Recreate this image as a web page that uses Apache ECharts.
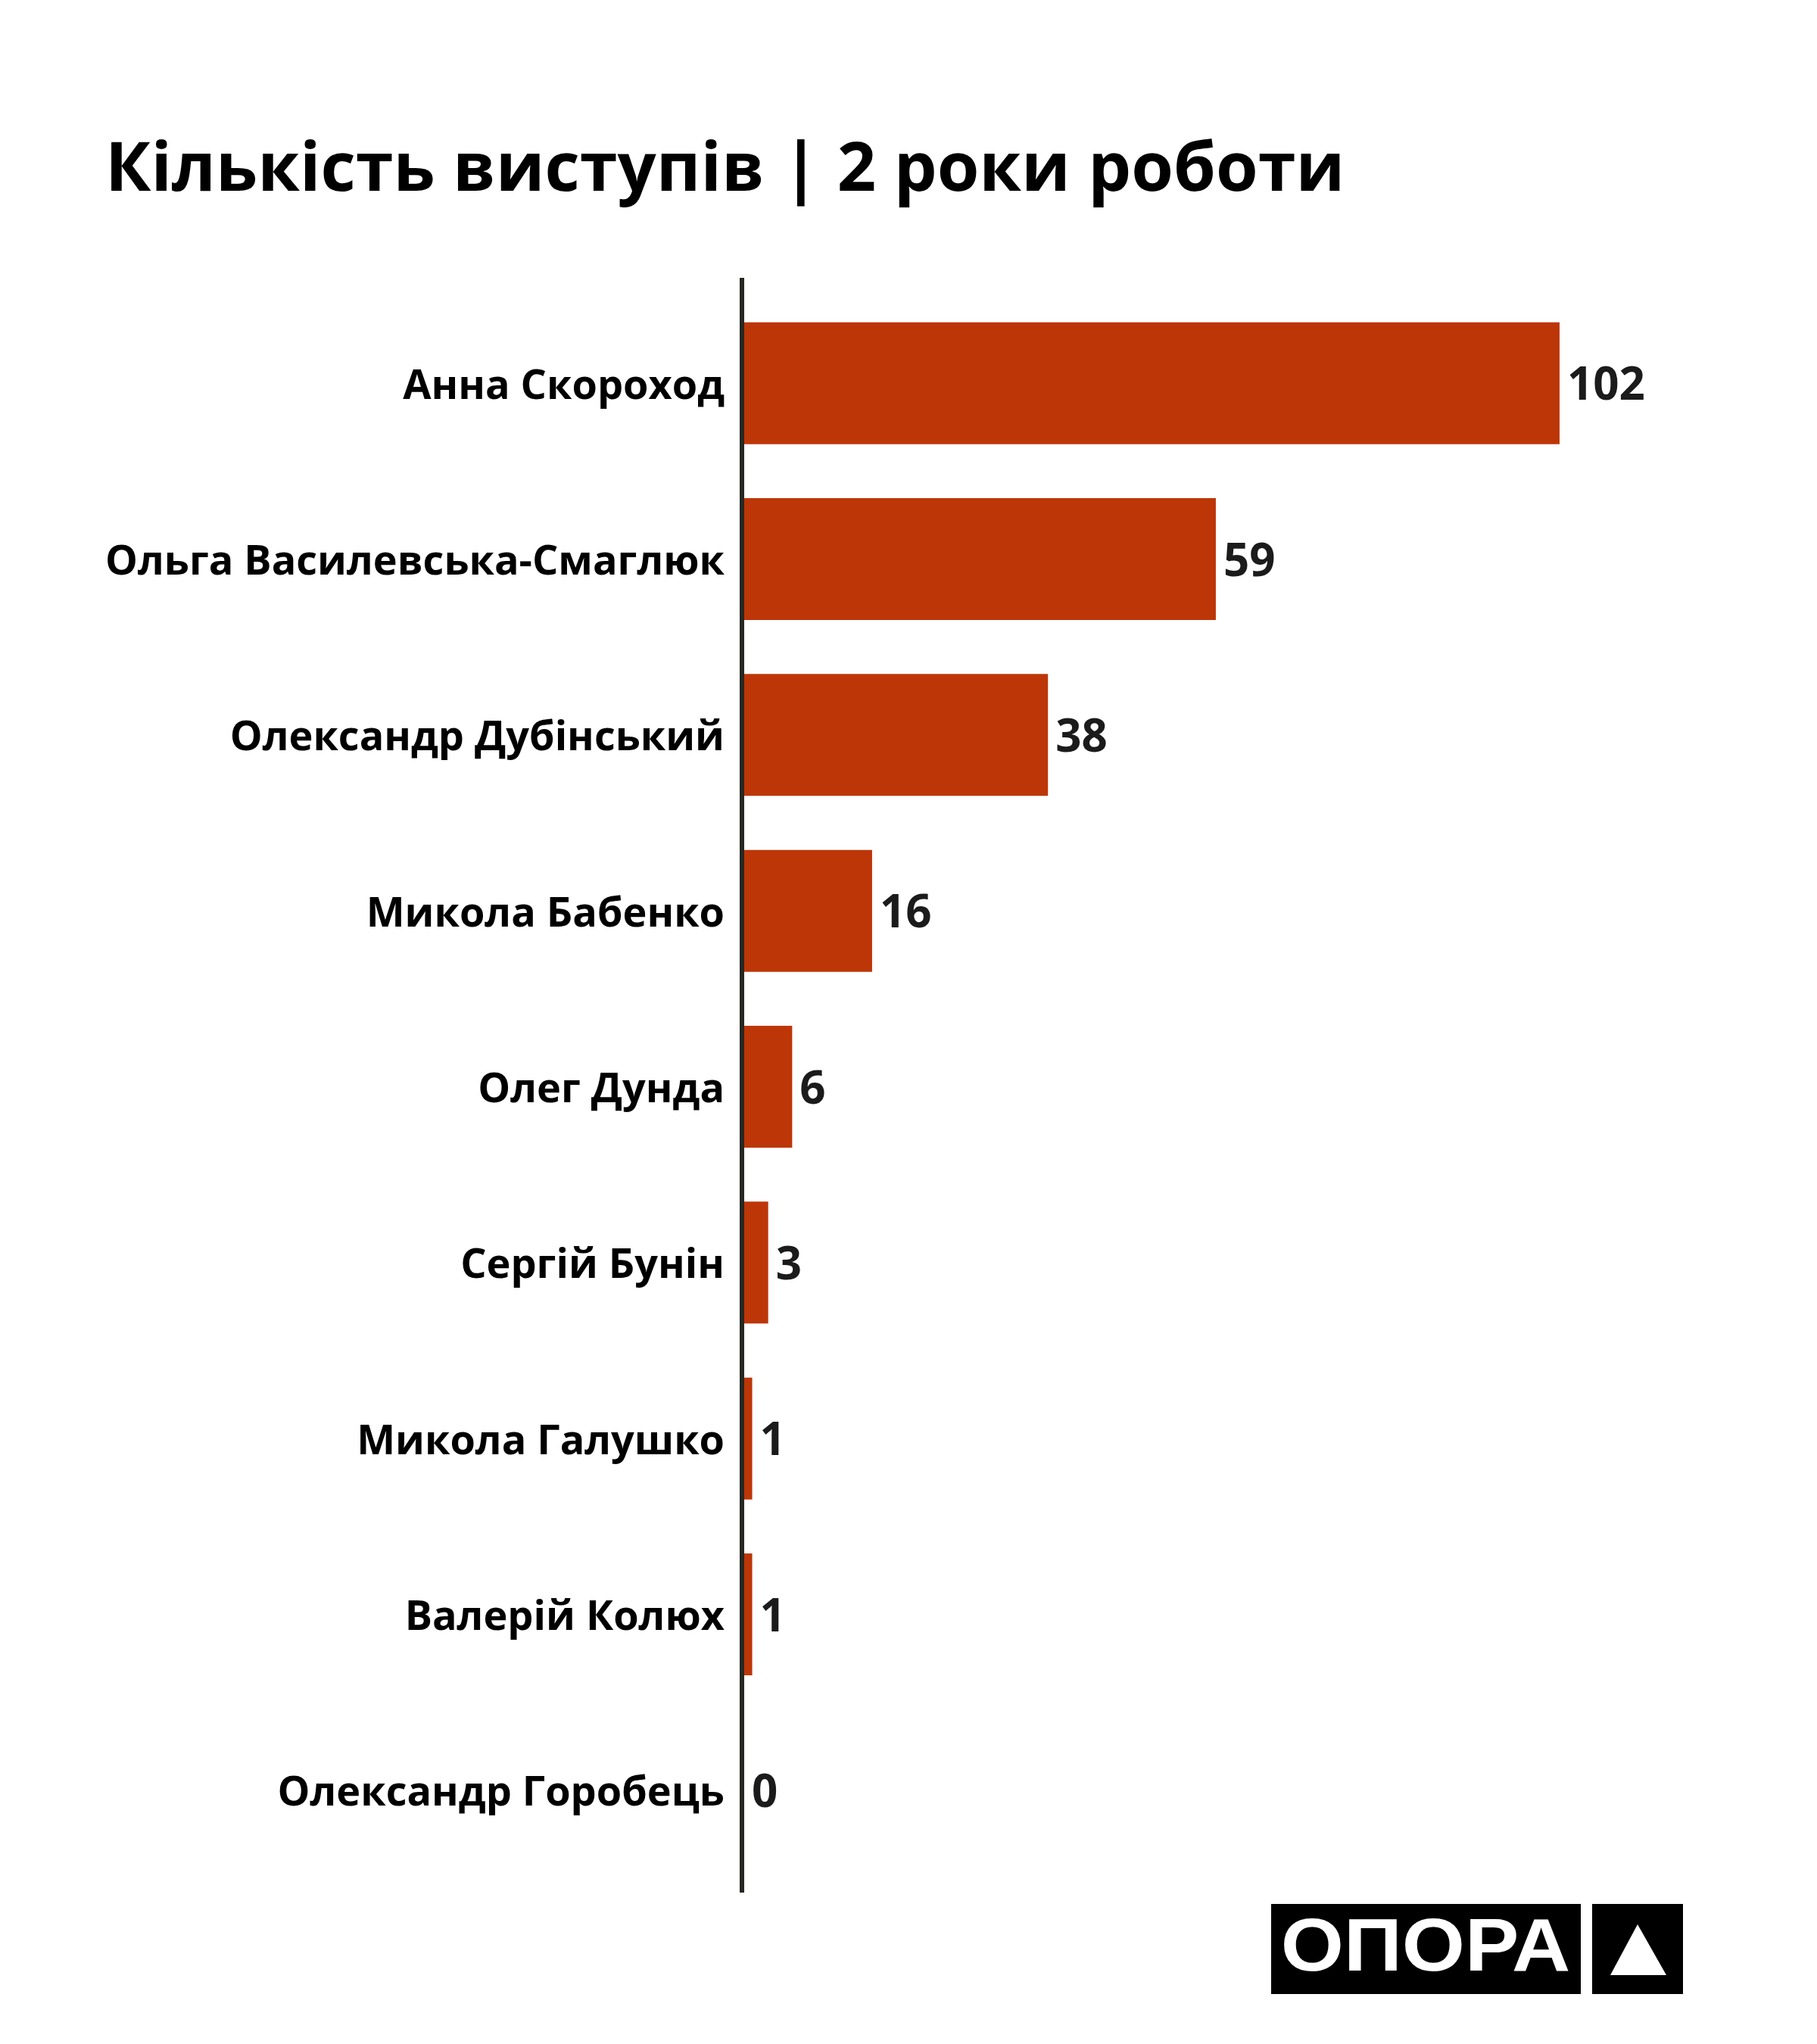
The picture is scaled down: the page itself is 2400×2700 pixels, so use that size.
<!DOCTYPE html>
<html>
<head>
<meta charset="utf-8">
<title>Кількість виступів | 2 роки роботи</title>
<script src="https://cdn.jsdelivr.net/npm/echarts@6/dist/echarts.min.js"></script>
<style>
  html, body { margin: 0; padding: 0; background: #fff; }
  #chart { width: 2400px; height: 2700px; }
</style>
</head>
<body>
<div id="chart"></div>
<script>
var names = [
    'Анна Скороход',
    'Ольга Василевська-Смаглюк',
    'Олександр Дубінський',
    'Микола Бабенко',
    'Олег Дунда',
    'Сергій Бунін',
    'Микола Галушко',
    'Валерій Колюх',
    'Олександр Горобець'
];
var speeches = [102, 59, 38, 16, 6, 3, 1, 1, 0];

var labelFont = '"Open Sans", "Noto Sans", sans-serif';
var barColor = '#bd3608';

var myChart = echarts.init(document.getElementById('chart'));
var option = {
    backgroundColor: '#ffffff',
    animation: false,
    title: {
        text: 'Кількість виступів | 2 роки роботи',
        left: 134,
        top: 176,
        textStyle: {
            fontFamily: labelFont,
            fontWeight: 700,
            fontSize: 90,
            color: '#000000'
        }
    },
    grid: {
        left: 983,
        top: 390,
        width: 1267,
        height: 2091
    },
    xAxis: {
        type: 'value',
        min: 0,
        max: 120,
        show: false
    },
    yAxis: {
        type: 'category',
        data: names,
        inverse: true,
        axisLine: { show: false },
        axisTick: { show: false },
        splitLine: { show: false },
        axisLabel: {
            margin: 26,
            formatter: function (v) {
                return '{n|' + v + '}';
            },
            rich: {
                n: {
                    padding: [10, 0, 0, 0],
                    fontFamily: labelFont,
                    fontWeight: 700,
                    fontSize: 54,
                    color: '#000000'
                }
            }
        }
    },
    series: [
        {
            name: 'Кількість виступів',
            type: 'bar',
            data: speeches,
            barWidth: 161,
            itemStyle: { color: barColor },
            label: {
                show: true,
                position: 'right',
                distance: 10,
                offset: [0, 5],
                fontFamily: labelFont,
                fontWeight: 700,
                fontSize: 60,
                color: '#1b1b1b'
            }
        }
    ],
    graphic: [
        // vertical axis line, a bit longer than the category band
        {
            type: 'line',
            shape: { x1: 980, y1: 367, x2: 980, y2: 2500 },
            style: { stroke: '#262822', lineWidth: 6 },
            z: 10
        },
        // logo
        {
            type: 'rect',
            shape: { x: 1679, y: 2515, width: 409, height: 119 },
            style: { fill: '#000000' }
        },
        {
            type: 'text',
            x: 1883,
            y: 2576,
            scaleX: 1.08,
            style: {
                text: 'ОПОРА',
                fill: '#ffffff',
                font: 'bold 99px "Liberation Sans", Arial, sans-serif',
                textAlign: 'center',
                textVerticalAlign: 'middle'
            }
        },
        {
            type: 'rect',
            shape: { x: 2103, y: 2515, width: 120, height: 119 },
            style: { fill: '#000000' }
        },
        {
            type: 'polygon',
            shape: { points: [[2163, 2542], [2201, 2609], [2127, 2609]] },
            style: { fill: '#ffffff' }
        }
    ]
};
myChart.setOption(option);
</script>
</body>
</html>
